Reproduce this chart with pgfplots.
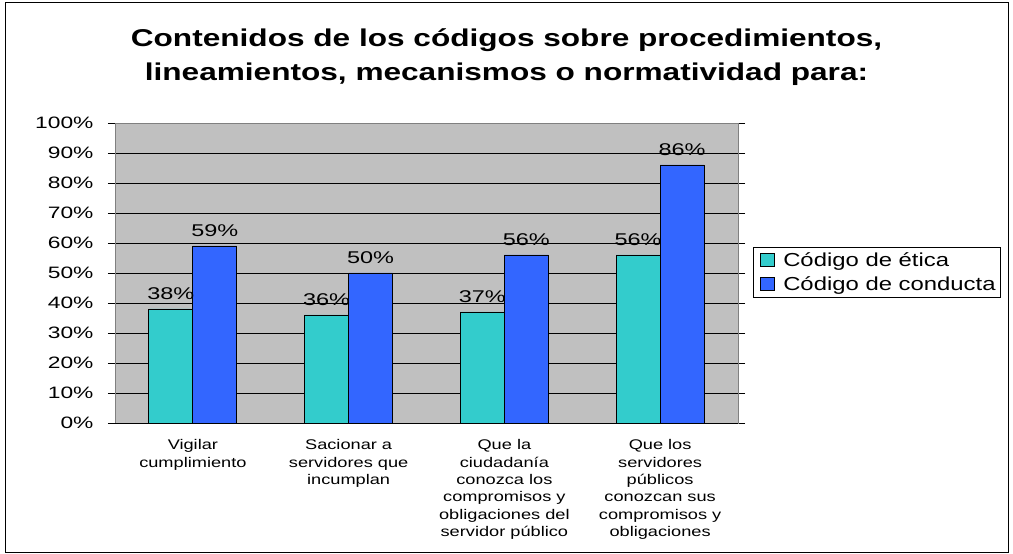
\documentclass[border=0pt]{standalone}
\usepackage{pgfplots}
\pgfplotsset{compat=1.18}
\usepackage{fontspec}
\setmainfont{Liberation Sans}
\newfontfamily\wide{Liberation Sans}[FakeStretch=1.3]
\newfontfamily\widetick{Liberation Sans}[FakeStretch=1.38]
\newfontfamily\widelegend{Liberation Sans}[FakeStretch=1.27]
\definecolor{teal1}{RGB}{51,204,204}
\definecolor{blue1}{RGB}{51,102,255}
\definecolor{bgray}{RGB}{192,192,192}
\definecolor{dgray}{RGB}{128,128,128}
\begin{document}
\begin{tikzpicture}[x=1pt,y=1pt]
\useasboundingbox (0,0) rectangle (1013,554);
\draw[black, line width=1pt] (5,1) rectangle (1008,551);
\node[align=center, font=\wide\bfseries\fontsize{24.3}{33.5}\selectfont] at (506.5,497) {Contenidos de los códigos sobre procedimientos,\\lineamientos, mecanismos o normatividad para:};
\begin{axis}[
  at={(115pt,131pt)}, anchor=south west,
  scale only axis, width=623pt, height=300pt,
  xmin=-0.5, xmax=3.5, ymin=0, ymax=100,
  /pgf/number format/assume math mode=true,
  axis background/.style={fill=bgray},
  axis line style={draw=dgray, line width=0.8pt},
  ytick={0,10,...,100},
  yticklabels={0\%,10\%,20\%,30\%,40\%,50\%,60\%,70\%,80\%,90\%,100\%},
  ymajorgrids, major grid style={black, line width=0.7pt},
  tick align=outside, major tick length=7pt,
  tick style={black, line width=0.8pt},
  xtick={0,1,2,3}, x tick style={draw=none},
  minor xtick={-0.5,0.5,1.5,2.5,3.5}, minor tick length=6pt,
  minor x tick style={black, line width=0.8pt},
  xticklabels={{Vigilar\\cumplimiento},{Sacionar a\\servidores que\\incumplan},{Que la\\ciudadanía\\conozca los\\compromisos y\\obligaciones del\\servidor público},{Que los\\servidores\\públicos\\conozcan sus\\compromisos y\\obligaciones}},
  xticklabel style={align=center, anchor=north, font=\wide\fontsize{14}{17.4}\selectfont, yshift=-6pt},
  yticklabel style={font=\widetick\fontsize{16.5}{20}\selectfont, anchor=east, xshift=-11pt},
  ybar=0pt, bar width=44pt,
  nodes near coords={\pgfmathprintnumber{\pgfplotspointmeta}\%},
  every node near coord/.append style={font=\widetick\fontsize{17}{20}\selectfont, black, anchor=base, yshift=9pt},
  legend style={at={(1.024,0.5867)}, anchor=north west, draw=black, fill=white, font=\widelegend\fontsize{18.8}{22}\selectfont, row sep=4pt, inner xsep=3pt, inner ysep=3.5pt, line width=0.8pt},
  legend cell align=left,
  legend image code/.code={\path (0pt,0pt) (24pt,0pt); \draw[#1, draw=black, line width=0.8pt] (4pt,-6pt) rectangle (18pt,7pt);},
  clip=false,
]
\addplot[fill=teal1, draw=black, line width=0.9pt] coordinates {(0,38) (1,36) (2,37) (3,56)};
\addplot[fill=blue1, draw=black, line width=0.9pt] coordinates {(0,59) (1,50) (2,56) (3,86)};
\legend{Código de ética, Código de conducta}
\draw[black, line width=0.9pt] (rel axis cs:0,0) -- (rel axis cs:1,0);
\end{axis}
\end{tikzpicture}
\end{document}
